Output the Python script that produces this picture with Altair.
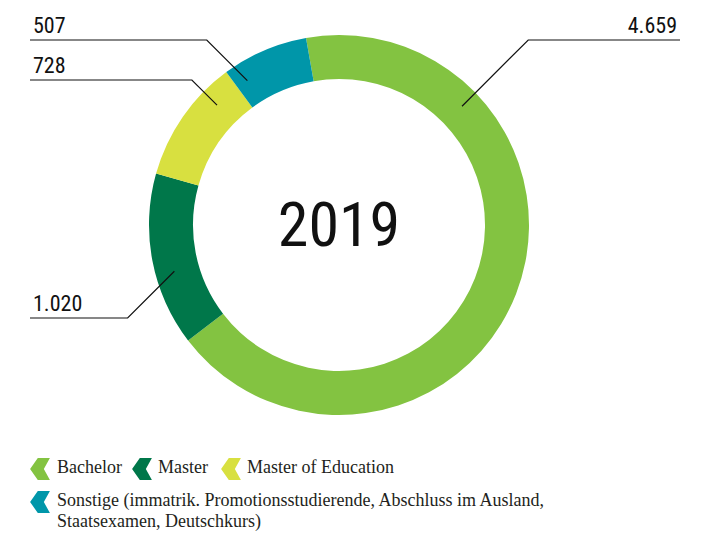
import math
import altair as alt
import pandas as pd

# ---- data ----
categories = ["Bachelor", "Master", "Master of Education",
              "Sonstige (immatrik. Promotionsstudierende, Abschluss im Ausland,|Staatsexamen, Deutschkurs)"]
values = [4659, 1020, 728, 507]
value_labels = ["4.659", "1.020", "728", "507"]
colors = ["#83c341", "#00774a", "#d8e040", "#0096a9"]
year_label = "2019"

# ---- layout (chart pixel space) ----
W, H = 692, 526
CX, CY = 331, 217
START = math.radians(350)
anchor_deg = [46, 254.3, 314.5, 327.6]
anchor_r = 171
line_y = [32, 310, 72, 32]
side = [1, -1, -1, -1]
end_x = {1: 672, -1: 22}
# legend layout
leg_sym_x = [32, 134, 223, 32]
leg_lab_x = [49, 150, 239, 49]
leg_base_y = [465, 465, 465, 498]

df = pd.DataFrame({"cat": categories, "value": values, "idx": list(range(len(values)))})

rows, lab = [], []
for i, a in enumerate(anchor_deg):
    ar = math.radians(a)
    rx = CX + anchor_r * math.sin(ar)
    ry = CY - anchor_r * math.cos(ar)
    ex = rx + side[i] * abs(ry - line_y[i])
    pts = [(rx, ry), (ex, line_y[i]), (end_x[side[i]], line_y[i])]
    for k, (px, py) in enumerate(pts):
        rows.append({"seg": i, "k": k, "x": px, "y": py})
    lab.append({"x": end_x[side[i]] - side[i] * 3, "y": line_y[i] - 7,
                "t": value_labels[i], "side": side[i]})
lead = pd.DataFrame(rows)
labdf = pd.DataFrame(lab)

legdf = pd.DataFrame({
    "cat": categories,
    "sx": leg_sym_x,
    "sy": [b - 4 for b in leg_base_y],
    "lx": leg_lab_x,
    "ly": leg_base_y,
})

xs = alt.Scale(domain=[0, W], nice=False, zero=False)
ys = alt.Scale(domain=[0, H], nice=False, zero=False, reverse=True)
cs = alt.Scale(domain=categories, range=colors)

chevron = "M-0.2,-1 L0.9,-1 L0.35,0 L0.9,1 L-0.2,1 L-0.9,0 Z"

arc = alt.Chart(df).mark_arc(innerRadius=146, outerRadius=190).encode(
    theta=alt.Theta("value:Q", stack=True,
                    scale=alt.Scale(range=[START, START + 2 * math.pi])),
    color=alt.Color("cat:N", scale=cs, legend=None),
    order=alt.Order("idx:Q"),
    x=alt.value(CX), y=alt.value(CY),
)

lines = alt.Chart(lead).mark_line(color="#111111", strokeWidth=1.2).encode(
    x=alt.X("x:Q", scale=xs, axis=None),
    y=alt.Y("y:Q", scale=ys, axis=None),
    detail="seg:N",
    order="k:Q",
)

font_c = "Roboto Condensed, Liberation Sans Narrow, DejaVu Sans Condensed, sans-serif"


def label_layer(s, al):
    return alt.Chart(labdf[labdf["side"] == s]).mark_text(
        font=font_c, fontSize=22, baseline="alphabetic", align=al, color="#111111"
    ).encode(
        x=alt.X("x:Q", scale=xs, axis=None),
        y=alt.Y("y:Q", scale=ys, axis=None),
        text="t:N",
    )


center = alt.Chart(pd.DataFrame({"t": [year_label]})).mark_text(
    font=font_c, fontSize=62, baseline="middle", align="center", color="#111111"
).encode(text="t:N", x=alt.value(CX), y=alt.value(CY + 2))

leg_sym = alt.Chart(legdf).mark_point(shape=chevron, size=484, filled=True,
                                      opacity=1, strokeWidth=0).encode(
    x=alt.X("sx:Q", scale=xs, axis=None),
    y=alt.Y("sy:Q", scale=ys, axis=None),
    color=alt.Color("cat:N", scale=cs, legend=None),
)

leg_txt = alt.Chart(legdf).mark_text(
    font="Liberation Serif", fontSize=18, align="left", baseline="alphabetic",
    lineBreak="|", lineHeight=21, color="#231f20"
).encode(
    x=alt.X("lx:Q", scale=xs, axis=None),
    y=alt.Y("ly:Q", scale=ys, axis=None),
    text="cat:N",
)

chart = alt.layer(arc, lines, label_layer(1, "right"), label_layer(-1, "left"),
                  center, leg_sym, leg_txt).properties(
    width=W, height=H, padding=0, autosize=alt.AutoSizeParams(type="none"),
    background="white",
).configure_view(stroke=None)

chart.save("out.html", embed_options={"renderer": "svg", "actions": False})
